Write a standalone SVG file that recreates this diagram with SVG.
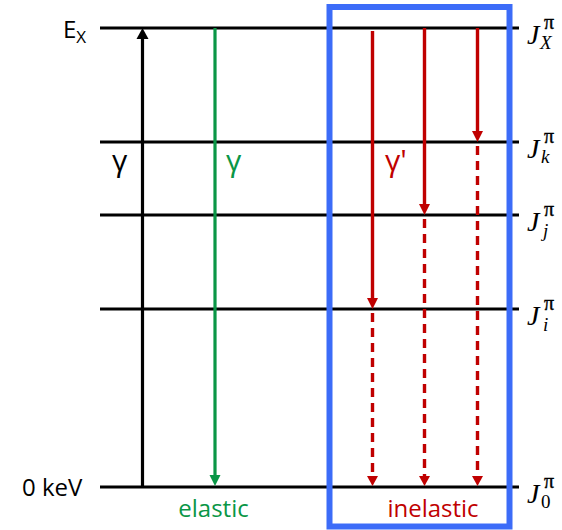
<svg xmlns="http://www.w3.org/2000/svg" width="562" height="530" viewBox="0 0 562 530">
<style>
.lvl{stroke:#000;stroke-width:3;fill:none}
.lab{font-family:"Open Sans","Noto Sans",sans-serif;font-size:24px}
.gam{font-family:"Open Sans","Noto Sans",sans-serif;font-size:30px}
.J{font-family:"Liberation Serif","DejaVu Serif",serif;font-style:italic;font-size:28px;fill:#000}
.sup{font-family:"Liberation Serif","DejaVu Serif",serif;font-size:20px;fill:#000;stroke:#000;stroke-width:0.4}
.sub{font-family:"Liberation Serif","DejaVu Serif",serif;font-style:italic;font-size:19px;fill:#000}
.up{font-style:normal}
.red{stroke:#c00000;stroke-width:3.4;fill:none}
.dash{stroke-dasharray:9 6}
</style>
<g id="levels">
<line class="lvl" x1="100" y1="28" x2="519" y2="28"/>
<line class="lvl" x1="100" y1="142" x2="519" y2="142"/>
<line class="lvl" x1="100" y1="215" x2="519" y2="215"/>
<line class="lvl" x1="100" y1="309" x2="519" y2="309"/>
<line class="lvl" x1="100" y1="487" x2="519" y2="487"/>
</g>
<g id="box"><rect x="329.5" y="7" width="180" height="519.5" fill="none" stroke="#3c6cf8" stroke-width="6"/></g>
<g id="connectors">
<line x1="142.5" y1="487" x2="142.5" y2="36" stroke="#000" stroke-width="3.2"/>
<path d="M136.5,39 L142.5,28 L148.5,39 Z" fill="#000"/>
<line x1="215" y1="28" x2="215" y2="478" stroke="#0a9646" stroke-width="3.2"/>
<path d="M209.5,475 L215,486 L220.5,475 Z" fill="#0a9646"/>
<line class="red" x1="372.5" y1="31" x2="372.5" y2="300"/>
<path d="M367,298 L372.5,309 L378,298 Z" fill="#c00000"/>
<line class="red dash" x1="372.5" y1="313" x2="372.5" y2="476"/>
<path d="M367,476 L372.5,486 L378,476 Z" fill="#c00000"/>
<line class="red" x1="424.5" y1="28" x2="424.5" y2="206"/>
<path d="M419,204 L424.5,215 L430,204 Z" fill="#c00000"/>
<line class="red dash" x1="424.5" y1="219" x2="424.5" y2="476"/>
<path d="M419,476 L424.5,486 L430,476 Z" fill="#c00000"/>
<line class="red" x1="477.5" y1="28" x2="477.5" y2="133"/>
<path d="M472,131 L477.5,142 L483,131 Z" fill="#c00000"/>
<line class="red dash" x1="477.5" y1="146" x2="477.5" y2="476"/>
<path d="M472,476 L477.5,486 L483,476 Z" fill="#c00000"/>
</g>
<g id="labels">
<text class="lab" x="63" y="38" fill="#000">E<tspan font-size="17" dy="5">X</tspan></text>
<text class="lab" x="22" y="496" fill="#000">0 keV</text>
<text class="gam" x="112" y="171" fill="#000">γ</text>
<text class="gam" x="226" y="171" fill="#0a9646">γ</text>
<text class="gam" x="385" y="171" fill="#c00000">γ'</text>
<text class="lab" x="213.5" y="517" fill="#0a9646" text-anchor="middle">elastic</text>
<text class="lab" x="433" y="517" fill="#c00000" text-anchor="middle">inelastic</text>
</g>
<g id="spins">
<text class="J" x="527" y="44">J</text><text class="sup" x="544" y="29">π</text><text class="sub" x="540" y="49">X</text>
<text class="J" x="527" y="158">J</text><text class="sup" x="544" y="143">π</text><text class="sub" x="541" y="163">k</text>
<text class="J" x="527" y="231">J</text><text class="sup" x="544" y="216">π</text><text class="sub" x="543" y="237">j</text>
<text class="J" x="527" y="325">J</text><text class="sup" x="544" y="310">π</text><text class="sub" x="543" y="331">i</text>
<text class="J" x="527" y="503">J</text><text class="sup" x="544" y="488">π</text><text class="sub up" x="541" y="508">0</text>
</g>
</svg>
